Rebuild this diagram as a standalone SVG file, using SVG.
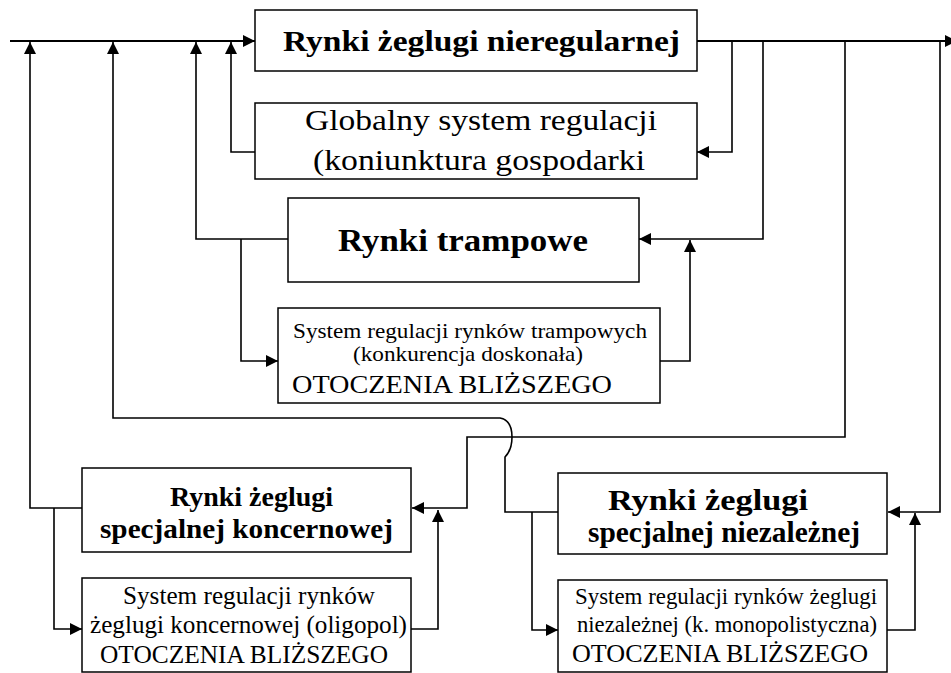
<svg xmlns="http://www.w3.org/2000/svg" width="951" height="673" viewBox="0 0 951 673">
  <style>
    .box { fill: #fff; stroke: #000; stroke-width: 1.5; }
    .t { font-family: "Liberation Serif", "Times New Roman", serif; fill: #000; }
    .b { font-weight: bold; }
    .wire { fill: none; stroke: #000; stroke-width: 1.6; }
    .main { stroke-width: 2; }
  </style>
  <defs>
    <marker id="arrow" markerUnits="userSpaceOnUse" markerWidth="13" markerHeight="13" refX="12" refY="6" orient="auto">
      <path d="M0,0 L12,6 L0,12 z" fill="#000"/>
    </marker>
  </defs>
  <rect width="951" height="673" fill="#fff"/>

  <!-- connectors -->
  <g id="connectors" class="wire" marker-end="url(#arrow)">
    <path class="main" d="M10,41 H255"/>
    <path class="main" d="M697,41 H957"/>
    <path d="M255,152 H231 V42"/>
    <path d="M288,239 H196 V42"/>
    <path d="M241,239 V361 H278"/>
    <path d="M660,361 H690 V240"/>
    <path d="M763,41 V239 H639"/>
    <path d="M732,41 V152 H697"/>
    <path d="M845,41 V437 H467 V508 H412"/>
    <path d="M411,629 H438 V510"/>
    <path d="M82,508 H30 V42"/>
    <path d="M54,508 V629 H82"/>
    <path d="M558,512 H505 V457 Q512,450 512,437 Q512,420 500,418 H113 V42"/>
    <path d="M532,512 V630 H558"/>
    <path d="M887,630 H915 V513"/>
    <path d="M940,41 V512 H888"/>
  </g>

  <!-- nodes -->
  <g id="rynki-nieregularne">
    <rect class="box" x="255" y="10" width="442" height="61"/>
    <text class="t b" x="283" y="51" font-size="30" textLength="397" lengthAdjust="spacingAndGlyphs">Rynki żeglugi nieregularnej</text>
  </g>

  <g id="system-globalny">
    <rect class="box" x="255" y="103" width="442" height="76"/>
    <text class="t" x="305" y="130" font-size="29" textLength="352" lengthAdjust="spacingAndGlyphs">Globalny system regulacji</text>
    <text class="t" x="313" y="170" font-size="29" textLength="332" lengthAdjust="spacingAndGlyphs">(koniunktura gospodarki</text>
  </g>

  <g id="rynki-trampowe">
    <rect class="box" x="288" y="198" width="351" height="84"/>
    <text class="t b" x="338" y="251" font-size="31" textLength="250" lengthAdjust="spacingAndGlyphs">Rynki trampowe</text>
  </g>

  <g id="system-trampowy">
    <rect class="box" x="278" y="308" width="382" height="95"/>
    <text class="t" x="293" y="338" font-size="21" textLength="354" lengthAdjust="spacingAndGlyphs">System regulacji rynków trampowych</text>
    <text class="t" x="353" y="361" font-size="21" textLength="230" lengthAdjust="spacingAndGlyphs">(konkurencja doskonała)</text>
    <text class="t" x="292" y="393" font-size="25" textLength="320" lengthAdjust="spacingAndGlyphs">OTOCZENIA BLIŻSZEGO</text>
  </g>

  <g id="rynki-koncernowe">
    <rect class="box" x="82" y="468" width="329" height="84"/>
    <text class="t b" x="170" y="506" font-size="28" textLength="163" lengthAdjust="spacingAndGlyphs">Rynki żeglugi</text>
    <text class="t b" x="100" y="538" font-size="28" textLength="293" lengthAdjust="spacingAndGlyphs">specjalnej koncernowej</text>
  </g>

  <g id="system-koncernowy">
    <rect class="box" x="82" y="578" width="329" height="94"/>
    <text class="t" x="123" y="604" font-size="25" textLength="252" lengthAdjust="spacingAndGlyphs">System regulacji rynków</text>
    <text class="t" x="90" y="633" font-size="25" textLength="317" lengthAdjust="spacingAndGlyphs">żeglugi koncernowej (oligopol)</text>
    <text class="t" x="100" y="663" font-size="25" textLength="288" lengthAdjust="spacingAndGlyphs">OTOCZENIA BLIŻSZEGO</text>
  </g>

  <g id="rynki-niezalezne">
    <rect class="box" x="558" y="473" width="329" height="81"/>
    <text class="t b" x="608" y="510" font-size="29" textLength="200" lengthAdjust="spacingAndGlyphs">Rynki żeglugi</text>
    <text class="t b" x="588" y="542" font-size="29" textLength="272" lengthAdjust="spacingAndGlyphs">specjalnej niezależnej</text>
  </g>

  <g id="system-niezalezny">
    <rect class="box" x="558" y="580" width="329" height="92"/>
    <text class="t" x="575" y="604" font-size="23" textLength="302" lengthAdjust="spacingAndGlyphs">System regulacji rynków żeglugi</text>
    <text class="t" x="577" y="632" font-size="23" textLength="300" lengthAdjust="spacingAndGlyphs">niezależnej (k. monopolistyczna)</text>
    <text class="t" x="572" y="662" font-size="25" textLength="296" lengthAdjust="spacingAndGlyphs">OTOCZENIA BLIŻSZEGO</text>
  </g>
</svg>
